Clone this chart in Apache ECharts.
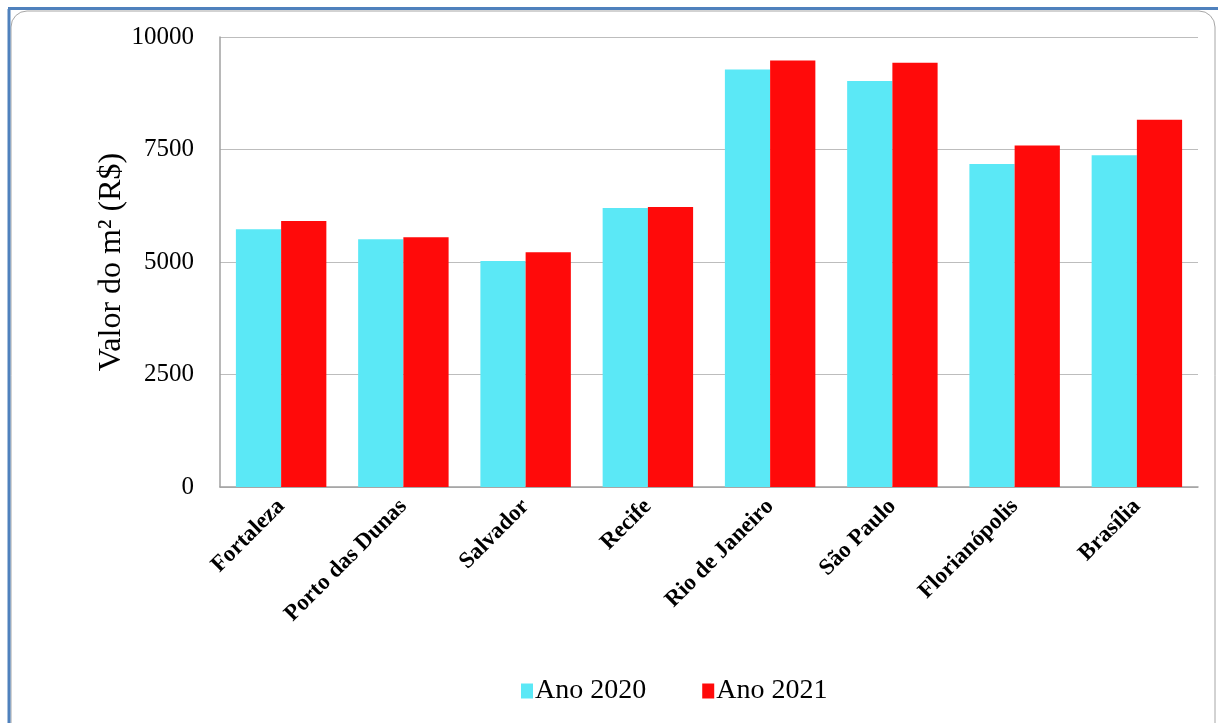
<!DOCTYPE html>
<html><head><meta charset="utf-8">
<script src="https://cdn.jsdelivr.net/npm/echarts@6/dist/echarts.min.js"></script>
<style>html,body{margin:0;padding:0;background:#fff}#c{width:1218px;height:723px}</style>
</head><body><div id="c"></div>
<script>
const categories = ['Fortaleza','Porto das Dunas','Salvador','Recife','Rio de Janeiro','São Paulo','Florianópolis','Brasília'];
const ano2020 = [5730, 5505, 5020, 6200, 9280, 9020, 7180, 7370];
const ano2021 = [5910, 5550, 5215, 6220, 9480, 9430, 7590, 8160];
const yTicks = [0, 2500, 5000, 7500, 10000];
const seriesNames = ['Ano 2020', 'Ano 2021'];

const serif = '"Liberation Serif", "DejaVu Serif", serif';
const chart = echarts.init(document.getElementById('c'));
chart.setOption({
  backgroundColor: '#fff',
  animation: false,
  graphic: [
    {type:'rect', shape:{x:11, y:11, width:1204, height:760, r:16}, style:{fill:'none', stroke:'#a6a6a6', lineWidth:1}, silent:true},
    {type:'line', shape:{x1:9, y1:9, x2:9, y2:723}, style:{stroke:'#4f81bd', lineWidth:3}, silent:true},
    {type:'line', shape:{x1:8, y1:8.5, x2:1218, y2:8.5}, style:{stroke:'#4f81bd', lineWidth:3}, silent:true}
  ],
  grid: {left:220, right:20, top:37, bottom:236, containLabel:false},
  legend: {
    data: seriesNames, left:516, top:672, itemWidth:12, itemHeight:15, itemGap:56,
    icon:'rect',
    textStyle:{fontFamily:serif, fontSize:28, color:'#000', padding:[0,0,0,-3]}
  },
  xAxis: {
    type:'category', data:categories,
    axisLine:{show:true, lineStyle:{color:'#a0a0a0', width:1.5}},
    axisTick:{show:false},
    axisLabel:{rotate:45, interval:0, margin:16, fontFamily:serif, fontWeight:'bold', fontSize:23, color:'#000'}
  },
  yAxis: {
    type:'value', min:yTicks[0], max:yTicks[yTicks.length-1], interval:2500,
    name:'Valor do m² (R$)', nameLocation:'middle', nameGap:92, nameMoveOverlap:false,
    nameTextStyle:{fontFamily:serif, fontSize:32, color:'#000'},
    axisLine:{show:true, lineStyle:{color:'#a0a0a0', width:1.5}},
    axisTick:{show:false},
    splitLine:{lineStyle:{color:'#bdbdbd', width:1}},
    axisLabel:{margin:26, fontFamily:serif, fontSize:25, color:'#000', formatter: v => String(v)}
  },
  series: [
    {name:seriesNames[0], type:'bar', data:ano2020, barGap:'0%', barCategoryGap:'26%', itemStyle:{color:'#5be8f6'}},
    {name:seriesNames[1], type:'bar', data:ano2021, itemStyle:{color:'#ff0a0a'}}
  ]
});
</script></body></html>
